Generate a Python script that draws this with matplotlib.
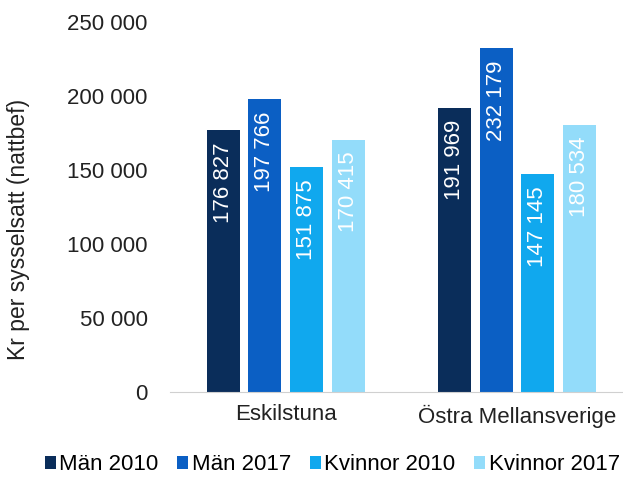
import numpy as np
import matplotlib.pyplot as plt
from matplotlib.ticker import FuncFormatter

plt.rcParams['font.family'] = ['Liberation Sans', 'DejaVu Sans']

regions = ["Eskilstuna", "Östra Mellansverige"]
series = ["Män 2010", "Män 2017", "Kvinnor 2010", "Kvinnor 2017"]
man_2010 = [176827, 191969]
man_2017 = [197766, 232179]
kvinnor_2010 = [151875, 147145]
kvinnor_2017 = [170415, 180534]
colors = ["#0a2d5a", "#0b5fc4", "#10a8ee", "#93dcfa"]

values = [man_2010, man_2017, kvinnor_2010, kvinnor_2017]

fig = plt.figure(figsize=(6.23, 4.79), dpi=100)
ax = fig.add_axes([170 / 623, 1 - 392 / 479, 1 - 170 / 623, (392 - 22) / 479])

x = np.arange(len(regions))
width = 0.1425
step = 0.18
offsets = (np.arange(len(series)) - 1.5) * step

for vals, off, col, name in zip(values, offsets, colors, series):
    bars = ax.bar(x + off, vals, width, color=col, label=name, zorder=2)
    for b, v in zip(bars, vals):
        txt = f"{v:,}".replace(",", " ")
        ax.text(b.get_x() + b.get_width() / 2, v - 8000, txt, rotation=90,
                ha="center", va="top", color="white", fontsize=16)

ax.set_xlim(-0.5, 1.458)
ax.set_ylim(0, 250000)
ax.set_yticks(np.arange(0, 250001, 50000))
ax.yaxis.set_major_formatter(FuncFormatter(lambda v, p: f"{int(v):,}".replace(",", " ")))
ax.set_xticks(x)
ax.set_xticklabels(regions)
ax.tick_params(axis="both", length=0, labelsize=16, colors="#222222")
ax.tick_params(axis="y", pad=16)
ax.tick_params(axis="x", pad=9)

for s in ["top", "right", "left"]:
    ax.spines[s].set_visible(False)
ax.spines["bottom"].set_color("#d0d0d0")

ax.set_ylabel("Kr per sysselsatt (nattbef)", fontsize=16.5, color="#222222")
ax.yaxis.label.set_verticalalignment("center")
ax.yaxis.set_label_coords(-0.335, 0.44)

ax.legend(loc="center", bbox_to_anchor=(0.358, -0.197), ncol=4, frameon=False,
          fontsize=16, handlelength=0.5, handleheight=0.5, handletextpad=0.15,
          columnspacing=0.85, bbox_transform=ax.transAxes)

fig.savefig("out.png", dpi=100)
